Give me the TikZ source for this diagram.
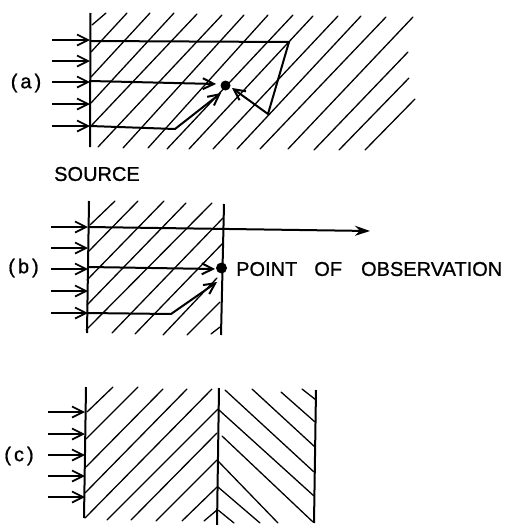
\documentclass[tikz,border=0pt]{standalone}
\usepackage{fontspec}
\setmainfont{Liberation Sans}
\newfontfamily\lett{Liberation Sans}[FakeBold=0.9]
\usetikzlibrary{arrows.meta}
\tikzset{
  hatch/.style={line width=1.3pt,line cap=round},
  wall/.style={line width=2pt},
  ray/.style={line width=2pt,line join=miter},
  incoming/.style={line width=2.2pt,-{Straight Barb[length=11pt,width=11pt,line width=1.7pt]}},
  raytip/.style={-{Straight Barb[length=11pt,width=11pt,line width=2pt]}},
  solidtip/.style={-{Stealth[length=15pt,width=10pt]}},
  obs/.style={circle,fill=black,inner sep=0pt,minimum size=#1},
  lbl/.style={inner sep=0pt,font=\lett\fontsize{20}{20}\selectfont},
  sublbl/.style={inner sep=0pt,font=\lett\fontsize{20}{20}\selectfont}
}
\newcommand{\hatchset}[1]{\foreach \ax/\ay/\bx/\by in {#1}{\draw[hatch] (\ax,\ay) -- (\bx,\by);}}
\newcommand{\arrowset}[3]{\foreach \ay in {#3}{\draw[incoming] (#1,\ay) -- (#2,\ay);}}
\begin{document}
\begin{tikzpicture}[x=1pt,y=-1pt]
\useasboundingbox (0,0) rectangle (508,525);
% ---------- (a)
\draw[wall] (90.5,13) -- (90,147);
\hatchset{92/25/106/13, 91/52/127/13, 91/77/150/13, 91/103/174/13, 91/126/197/14,
 98/147/222/15, 123/148/244/15, 148/148/268/15, 167/149/293/15, 189/149/313/16,
 213/149/338/16, 237/149/361/16, 260/149/386/17, 288/149/413/17, 314/150/408/52,
 339/150/409/78, 365/150/415/99}
\arrowset{52}{90}{40,61,82,104,126}
\node[obs=10pt] (dotA) at (225.5,85.5) {};
\coordinate (a0) at (90,41);
\coordinate (a1) at (289,42);
\coordinate (a2) at (268,114);
\coordinate (a3) at (90,81);
\coordinate (a4) at (90,126);
\coordinate (a5) at (175,129);
\draw[ray,raytip] (a0) -- (a1) -- (a2) -- (232,88);
\draw[ray,raytip] (a3) -- (216,84);
\draw[ray,raytip] (a4) -- (a5) -- (221,93);
\node[sublbl] (la) at (26,83) {(\kern3pt a\kern3pt)};
\node[lbl,anchor=west] (src) at (54,174) {SOURCE};
% ---------- (b)
\draw[wall] (89,201) -- (87,333);
\draw[wall] (224,204) -- (221,335);
\hatchset{90/225/115/201, 88/252/138/201, 87/280/164/201, 87/305/186/203, 86/330/212/203,
 112/333/223/218, 135/334/223/243, 163/335/217/278, 187/335/220/302, 211/334/220/327}
\arrowset{51}{88}{227,248,269,291,313}
\node[obs=11pt] (dotB) at (221.5,268) {};
\coordinate (b0) at (88,227);
\coordinate (b1) at (370,231);
\coordinate (b2) at (88,267);
\coordinate (b3) at (87,313);
\coordinate (b4) at (171,314);
\draw[ray,solidtip] (b0) -- (b1);
\draw[ray,raytip] (b2) -- (215,269);
\draw[ray,raytip] (b3) -- (b4) -- (217,282);
\node[sublbl] (lb) at (23.5,268) {(\kern3pt b\kern3pt)};
\node[lbl,anchor=west] (pt) at (236,269) {POINT\hspace{17pt}OF\hspace{19pt}OBSERVATION};
% ---------- (c)
\draw[wall] (86,387) -- (84,518);
\draw[wall] (219,388) -- (217,525);
\draw[wall] (316,390) -- (314,523);
\hatchset{87/412/113/387, 86/439/138/387, 86/467/163/389, 85/493/187/389, 85/518/212/389,
 107/520/218/409, 131/520/217/433, 156/521/217/460, 182/521/217/487, 204/521/217/510,
 302/389/316/400, 281/392/315/422, 252/389/315/447, 225/390/314/472, 219/410/314/496,
 222/436/313/522, 218/461/278/523, 218/487/260/523, 218/510/234/523}
\arrowset{48}{85}{412,434,455,476,497}
\node[sublbl] (lc) at (19,456) {(\kern3pt c\kern3pt)};
\end{tikzpicture}
\end{document}
